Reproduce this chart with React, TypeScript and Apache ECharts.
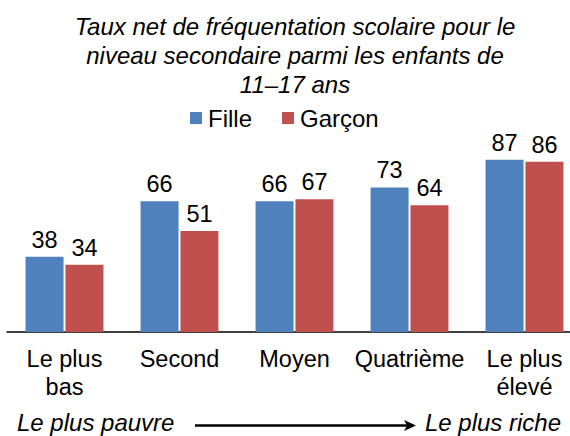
import React, { useEffect, useRef } from "react";
import * as echarts from "echarts";

const categories = ["Le plus\nbas", "Second", "Moyen", "Quatrième", "Le plus\nélevé"];
const filleValues = [38, 66, 66, 73, 87];
const garconValues = [34, 51, 67, 64, 86];
const seriesNames = ["Fille", "Garçon"];
const titleText = "Taux net de fréquentation scolaire pour le\nniveau secondaire parmi les enfants de\n11–17 ans";
const leftNote = "Le plus pauvre";
const rightNote = "Le plus riche";

const FONT = "'Liberation Sans', Arial, sans-serif";

export default function App() {
  const ref = useRef<HTMLDivElement>(null);
  useEffect(() => {
    document.body.style.margin = "0";
    if (!ref.current) return;
    const chart = echarts.init(ref.current, null, { renderer: "svg" });
    const labelStyle = {
      show: true,
      position: "top" as const,
      distance: 5,
      fontSize: 23.5,
      color: "#000",
      fontFamily: FONT,
    };
    chart.setOption({
      animation: false,
      backgroundColor: "#fff",
      textStyle: { fontFamily: FONT },
      title: {
        text: titleText,
        left: 295,
        top: 12,
        padding: 0,
        textAlign: "center",
        textStyle: {
          fontFamily: FONT,
          fontStyle: "italic",
          fontWeight: "normal",
          fontSize: 24,
          lineHeight: 29,
          color: "#000",
        },
      },
      legend: {
        data: seriesNames,
        left: 190,
        top: 106,
        padding: 0,
        icon: "rect",
        itemWidth: 12,
        itemHeight: 12,
        itemGap: 30,
        textStyle: { fontSize: 24, color: "#000", fontFamily: FONT, padding: [0, 0, 0, 1] },
      },
      grid: { left: 7, width: 575, top: 134, height: 198 },
      xAxis: {
        type: "category",
        data: categories,
        axisLine: { show: true, lineStyle: { color: "#000", width: 1.5 } },
        axisTick: { show: false },
        axisLabel: {
          interval: 0,
          margin: 13,
          fontSize: 23.5,
          lineHeight: 28,
          color: "#000",
          fontFamily: FONT,
        },
      },
      yAxis: {
        type: "value",
        min: 0,
        max: 100,
        show: false,
        splitLine: { show: false },
      },
      series: [
        {
          name: seriesNames[0],
          type: "bar",
          data: filleValues,
          barWidth: 38,
          barGap: "5%",
          itemStyle: { color: "#4F81BD" },
          label: labelStyle,
        },
        {
          name: seriesNames[1],
          type: "bar",
          data: garconValues,
          barWidth: 38,
          barGap: "5%",
          itemStyle: { color: "#C0504D" },
          label: labelStyle,
        },
      ],
      graphic: [
        {
          type: "text",
          x: 17,
          y: 410,
          style: {
            text: leftNote,
            fontSize: 24,
            fontStyle: "italic",
            fontFamily: FONT,
            fill: "#000",
          },
        },
        {
          type: "text",
          x: 561,
          y: 410,
          style: {
            text: rightNote,
            align: "right",
            fontSize: 24,
            fontStyle: "italic",
            fontFamily: FONT,
            fill: "#000",
          },
        },
        {
          type: "line",
          shape: { x1: 195, y1: 425.5, x2: 409, y2: 425.5 },
          style: { stroke: "#000", lineWidth: 2.5 },
        },
        {
          type: "polygon",
          shape: { points: [[404, 420], [416, 425.5], [404, 431], [407, 425.5]] },
          style: { fill: "#000" },
        },
      ],
    });
    return () => chart.dispose();
  }, []);
  return (
    <div style={{ width: 570, height: 436, overflow: "hidden" }}>
      <div ref={ref} style={{ width: 582, height: 436 }} />
    </div>
  );
}
